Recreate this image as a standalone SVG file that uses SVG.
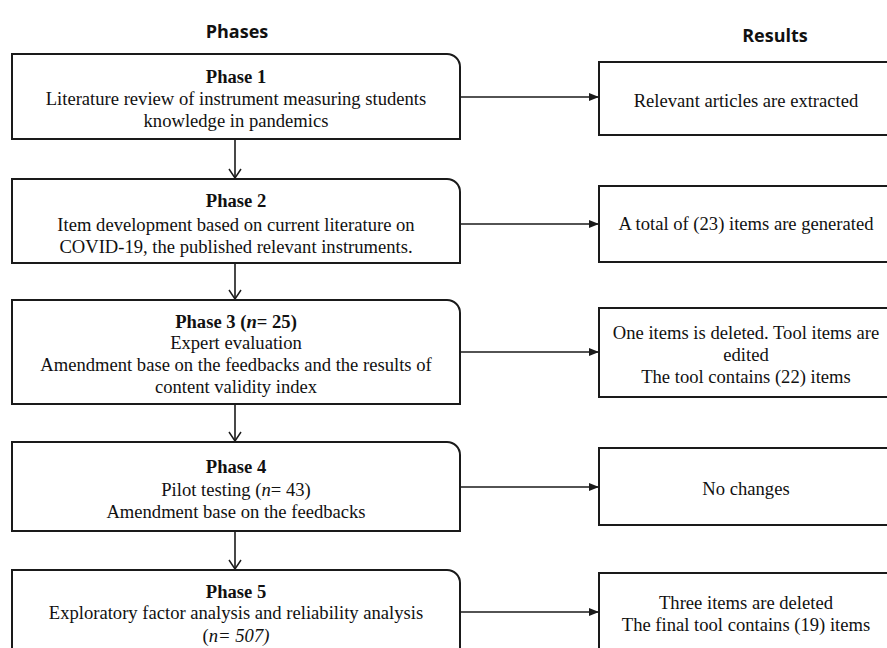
<svg xmlns="http://www.w3.org/2000/svg" width="887" height="648" viewBox="0 0 887 648">
<style>
.box{fill:#fff;stroke:#1a1a1a;stroke-width:2}
.t{font-family:"Liberation Serif",serif;font-size:18.6px;fill:#111;text-anchor:middle}
.b{font-weight:bold}
.h{font-family:"Open Sans","Liberation Sans",sans-serif;font-weight:bold;font-size:18px;fill:#111;text-anchor:middle}
.c{stroke:#1a1a1a;stroke-width:1.6;fill:none}
</style>
<defs>
<marker id="tri" markerWidth="10" markerHeight="8" refX="10" refY="4" orient="auto" markerUnits="userSpaceOnUse">
<path d="M0,0 L10,4 L0,8 Z" fill="#1a1a1a"/>
</marker>
<marker id="vee" markerWidth="14" markerHeight="12" refX="7" refY="11" orient="0" markerUnits="userSpaceOnUse">
<path d="M1,2 L7,11 L13,2" fill="none" stroke="#1a1a1a" stroke-width="1.5"/>
</marker>
</defs>
<text class="h" x="237" y="38">Phases</text>
<text class="h" x="775" y="42">Results</text>
<g id="connectors">
<line class="c" x1="460" y1="97" x2="599" y2="97" marker-end="url(#tri)"/>
<line class="c" x1="235" y1="139" x2="235" y2="178" marker-end="url(#vee)"/>
<line class="c" x1="235" y1="263" x2="235" y2="299" marker-end="url(#vee)"/>
<line class="c" x1="235" y1="404" x2="235" y2="441" marker-end="url(#vee)"/>
<line class="c" x1="235" y1="531" x2="235" y2="569" marker-end="url(#vee)"/>
<line class="c" x1="460" y1="224" x2="599" y2="224" marker-end="url(#tri)"/>
<line class="c" x1="460" y1="352" x2="599" y2="352" marker-end="url(#tri)"/>
<line class="c" x1="460" y1="487" x2="599" y2="487" marker-end="url(#tri)"/>
<line class="c" x1="460" y1="612" x2="599" y2="612" marker-end="url(#tri)"/>
</g>
<g id="phase1">
<path class="box" d="M12,54 H447 A13,13 0 0 1 460,67 V139 H12 Z"/>
<text class="t b" x="236" y="83">Phase 1</text>
<text class="t" x="236" y="105">Literature review of instrument measuring students</text>
<text class="t" x="236" y="127">knowledge in pandemics</text>
</g>
<g id="phase2">
<path class="box" d="M12,179 H447 A13,13 0 0 1 460,192 V263 H12 Z"/>
<text class="t b" x="236" y="207">Phase 2</text>
<text class="t" x="236" y="231">Item development based on current literature on</text>
<text class="t" x="236" y="253">COVID-19, the published relevant instruments.</text>
</g>
<g id="phase3">
<path class="box" d="M12,300 H447 A13,13 0 0 1 460,313 V404 H12 Z"/>
<text class="t b" x="236" y="328">Phase 3 (<tspan font-style="italic">n</tspan>= 25)</text>
<text class="t" x="236" y="349">Expert evaluation</text>
<text class="t" x="236" y="371">Amendment base on the feedbacks and the results of</text>
<text class="t" x="236" y="393">content validity index</text>
</g>
<g id="phase4">
<path class="box" d="M12,442 H447 A13,13 0 0 1 460,455 V531 H12 Z"/>
<text class="t b" x="236" y="473">Phase 4</text>
<text class="t" x="236" y="496">Pilot testing (<tspan font-style="italic">n</tspan>= 43)</text>
<text class="t" x="236" y="518">Amendment base on the feedbacks</text>
</g>
<g id="phase5">
<path class="box" d="M12,570 H447 A13,13 0 0 1 460,583 V660 H12 Z"/>
<text class="t b" x="236" y="598">Phase 5</text>
<text class="t" x="236" y="619">Exploratory factor analysis and reliability analysis</text>
<text class="t" x="236" y="642">(<tspan font-style="italic">n= 507)</tspan></text>
</g>
<g id="result1">
<rect class="box" x="599" y="62" width="300" height="73"/>
<text class="t" x="746" y="107">Relevant articles are extracted</text>
</g>
<g id="result2">
<rect class="box" x="599" y="186" width="300" height="76"/>
<text class="t" x="746" y="230">A total of (23) items are generated</text>
</g>
<g id="result3">
<rect class="box" x="599" y="308" width="300" height="89"/>
<text class="t" x="746" y="339">One items is deleted. Tool items are</text>
<text class="t" x="746" y="361">edited</text>
<text class="t" x="746" y="383">The tool contains (22) items</text>
</g>
<g id="result4">
<rect class="box" x="599" y="448" width="300" height="77"/>
<text class="t" x="746" y="495">No changes</text>
</g>
<g id="result5">
<rect class="box" x="599" y="573" width="300" height="90"/>
<text class="t" x="746" y="609">Three items are deleted</text>
<text class="t" x="746" y="631">The final tool contains (19) items</text>
</g>
</svg>
